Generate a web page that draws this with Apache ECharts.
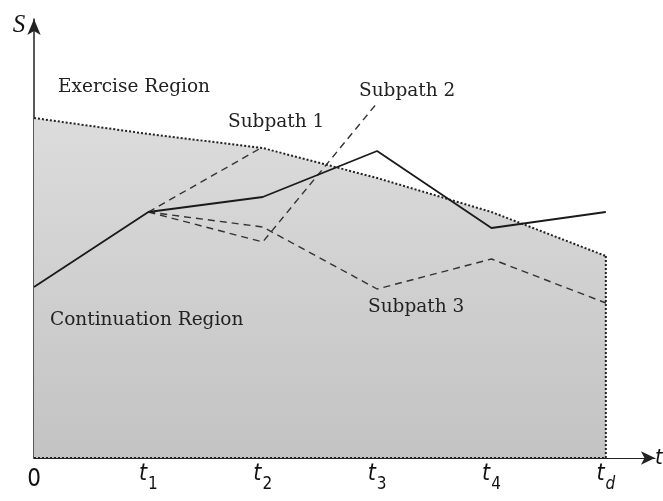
<!DOCTYPE html>
<html>
<head>
<meta charset="utf-8">
<script src="https://cdn.jsdelivr.net/npm/echarts@6/dist/echarts.min.js"></script>
<style>
  html, body { margin: 0; padding: 0; background: #fff; }
  #chart { width: 663px; height: 501px; }
</style>
</head>
<body>
<div id="chart"></div>
<script>
// time points 0, t1 .. t4, td
const times = [0, 1, 2, 3, 4, 5];
const tickSub = ["", "1", "2", "3", "4", "d"];

// exercise boundary (dotted), top of the shaded continuation region
const boundary = [8.5, 8.1, 7.75, 7.0, 6.15, 5.05];
// the main simulated path (solid)
const mainPath = [4.275, 6.15, 6.525, 7.675, 5.75, 6.15];
// subpaths branching at t1 (dashed)
const subpath1 = [null, 6.15, 7.775];
const subpath2 = [null, 6.15, 5.4, 8.875];
const subpath3 = [null, 6.15, 5.775, 4.225, 4.975, 3.875];

const notes = [
  { text: "Exercise Region", x: 58, y: 87 },
  { text: "Subpath 1", x: 228, y: 122 },
  { text: "Subpath 2", x: 359, y: 91 },
  { text: "Continuation Region", x: 50, y: 320 },
  { text: "Subpath 3", x: 368, y: 307 }
];

function pairs(vals) {
  let out = [];
  for (let i = 0; i < vals.length; i++) {
    if (vals[i] != null) out.push([times[i], vals[i]]);
  }
  return out;
}

const serif = "'DejaVu Serif', 'Liberation Serif', serif";
const tickFont = "'Liberation Sans Narrow', 'DejaVu Sans Condensed', 'DejaVu Sans', sans-serif";
const last = times.length - 1;

let chart = echarts.init(document.getElementById("chart"));

let option = {
  animation: false,
  grid: { left: 34, right: 8, top: 19, bottom: 43, outerBoundsMode: "none" },
  xAxis: {
    type: "value",
    min: 0,
    max: 5.43,
    interval: 1,
    name: "t",
    nameLocation: "end",
    nameGap: 0,
    nameTextStyle: {
      fontFamily: tickFont, fontStyle: "italic", fontSize: 22, color: "#111",
      padding: [46, 0, 0, 0], align: "left"
    },
    splitLine: { show: false },
    axisTick: { show: false },
    axisLine: {
      lineStyle: { color: "#222", width: 1.2 },
      symbol: ["none", "arrow"],
      symbolSize: [10, 14]
    },
    axisLabel: {
      margin: 4,
      showMaxLabel: false,
      formatter: function (val) {
        const i = times.indexOf(val);
        if (i < 0) return "";
        if (!tickSub[i]) return "{z|0}";
        return "{t|t}{" + (tickSub[i] === "d" ? "d" : "s") + "|" + tickSub[i] + "}";
      },
      rich: {
        z: { fontFamily: tickFont, fontSize: 24, lineHeight: 36, color: "#111" },
        t: { fontFamily: tickFont, fontStyle: "italic", fontSize: 23, lineHeight: 24, color: "#111" },
        s: { fontFamily: tickFont, fontSize: 17, lineHeight: 16, padding: [21, 0, 0, 1], color: "#111" },
        d: { fontFamily: tickFont, fontStyle: "italic", fontSize: 17, lineHeight: 16, padding: [21, 0, 0, 1], color: "#111" }
      }
    }
  },
  yAxis: {
    type: "value",
    min: 0,
    max: 10.975,
    name: "S",
    nameLocation: "end",
    nameGap: -6,
    nameTextStyle: {
      fontFamily: "'Liberation Serif', serif", fontStyle: "italic", fontSize: 25, color: "#111",
      verticalAlign: "middle", padding: [0, 30, 0, 0]
    },
    splitLine: { show: false },
    axisTick: { show: false },
    axisLabel: { show: false },
    axisLine: {
      lineStyle: { color: "#222", width: 1.5 },
      symbol: ["none", "arrow"],
      symbolSize: [10, 16]
    }
  },
  series: [
    {
      type: "line",
      data: pairs(boundary),
      showSymbol: false,
      z: 1,
      lineStyle: { color: "#222", width: 2, type: [2, 2] },
      areaStyle: {
        origin: "start",
        opacity: 1,
        color: new echarts.graphic.LinearGradient(0, 0, 0, 1, [
          { offset: 0, color: "#dcdcdc" },
          { offset: 1, color: "#c3c3c3" }
        ])
      }
    },
    {
      type: "line",
      data: [[times[last], boundary[last]], [times[last], 0]],
      showSymbol: false,
      z: 2,
      lineStyle: { color: "#222", width: 2, type: [2, 2] }
    },
    {
      type: "line",
      data: [[times[0], 0], [times[last], 0]],
      showSymbol: false,
      z: 3,
      lineStyle: { color: "#222", width: 2, type: [2, 2] }
    },
    {
      type: "line",
      data: pairs(subpath1),
      showSymbol: false,
      z: 4,
      lineStyle: { color: "#333", width: 1.4, type: [7, 5] }
    },
    {
      type: "line",
      data: pairs(subpath2),
      showSymbol: false,
      z: 4,
      lineStyle: { color: "#333", width: 1.4, type: [7, 5] }
    },
    {
      type: "line",
      data: pairs(subpath3),
      showSymbol: false,
      z: 4,
      lineStyle: { color: "#333", width: 1.4, type: [7, 5] }
    },
    {
      type: "line",
      data: pairs(mainPath),
      showSymbol: false,
      z: 5,
      lineStyle: { color: "#1a1a1a", width: 1.8 }
    }
  ],
  graphic: notes.map(function (n) {
    return {
      type: "text",
      x: n.x,
      y: n.y,
      z: 10,
      style: {
        text: n.text,
        font: "18.5px " + serif,
        fill: "#222",
        verticalAlign: "middle"
      }
    };
  })
};

chart.setOption(option);
</script>
</body>
</html>
